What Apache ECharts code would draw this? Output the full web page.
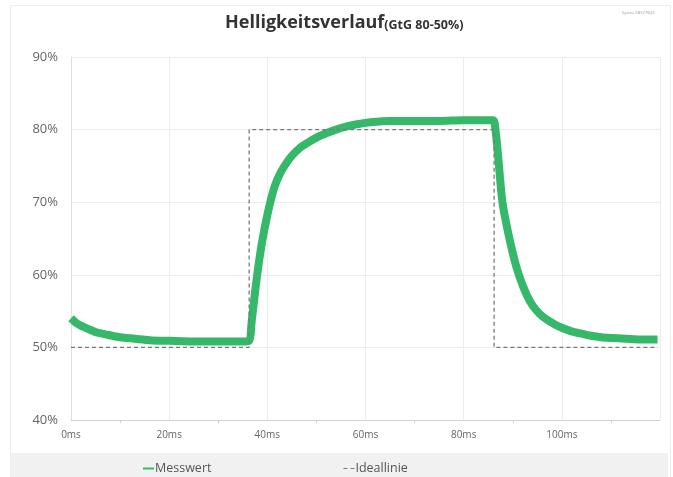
<!DOCTYPE html>
<html>
<head>
<meta charset="utf-8">
<script src="https://cdn.jsdelivr.net/npm/echarts@6/dist/echarts.min.js"></script>
<style>html,body{margin:0;padding:0;background:#fff}#c{width:673px;height:477px}</style>
</head>
<body>
<div id="c"></div>
<script>
const titleMain = 'Helligkeitsverlauf';
const titleSub = '(GtG 80-50%)';
const cornerNote = 'Iiyama XB3270QS';
const seriesNames = ['Messwert', 'Ideallinie'];
const xTickStep = 20;
const yTicks = [40, 50, 60, 70, 80, 90];

// Messwert (ms, %)
const messTime = [0, 0.5, 1, 2, 3, 4, 5, 7, 10, 13, 16, 20, 25, 30, 33, 35, 36.3,
  36.8, 37.3, 37.8, 38.3, 39, 39.8, 40.6, 41.5, 42.5, 43.5, 45, 46.5, 48, 50, 52, 54, 56, 58, 61, 65, 70, 75, 80, 84, 86,
  86.5, 87, 87.9, 89, 90, 91, 92, 93, 94, 95.5, 97, 98.5, 100, 102, 104, 106, 108, 110, 113, 116, 119.5];
const messValue = [54.0, 53.7, 53.4, 53.0, 52.7, 52.4, 52.1, 51.8, 51.4, 51.2, 51.0, 50.9, 50.8, 50.8, 50.8, 50.8, 50.9,
  53.5, 56.5, 59.3, 61.8, 64.8, 67.6, 70.0, 72.2, 73.8, 75.0, 76.4, 77.4, 78.1, 78.9, 79.5, 80.0, 80.4, 80.7, 81.0, 81.2, 81.2, 81.2, 81.3, 81.3, 81.3,
  79.8, 76.5, 70.0, 66.0, 63.0, 60.5, 58.6, 57.0, 55.8, 54.6, 53.8, 53.2, 52.7, 52.2, 51.9, 51.6, 51.4, 51.3, 51.2, 51.1, 51.1];

// Ideallinie (ms, %)
const idealTime = [0, 36.3, 36.3, 86.2, 86.2, 119.5];
const idealValue = [50, 50, 80, 80, 50, 50];

const messData = messTime.map((t, i) => [t, messValue[i]]);
const idealData = idealTime.map((t, i) => [t, idealValue[i]]);

const green = '#36b86b';
const dashGray = '#7a7a7a';

const chart = echarts.init(document.getElementById('c'), null, {renderer: 'canvas'});
chart.setOption({
  animation: false,
  backgroundColor: '#fff',
  graphic: [
    {type: 'rect', z: -10, shape: {x: 10.5, y: 5.5, width: 660, height: 472},
     style: {fill: '#fff', stroke: '#ececec', lineWidth: 1}},
    {type: 'rect', z: -9, shape: {x: 11, y: 453, width: 657, height: 24},
     style: {fill: '#f1f1f1'}},
    {type: 'text', left: 622, top: 11,
     style: {text: cornerNote, fontSize: 4, fill: '#9a9a9a', fontFamily: 'Open Sans'}}
  ],
  title: {
    text: '{a|' + titleMain + '}{b|' + titleSub + '}',
    left: 220, top: 9,
    textStyle: {
      rich: {
        a: {fontSize: 18, fontWeight: 'bold', color: '#333', fontFamily: 'Open Sans'},
        b: {fontSize: 12.5, fontWeight: 'bold', color: '#333', fontFamily: 'Open Sans', padding: [4, 0, 0, 0]}
      }
    }
  },
  legend: {
    left: 138, top: 457,
    itemGap: 132,
    itemWidth: 11, itemHeight: 2,
    textStyle: {fontSize: 12.5, color: '#555', fontFamily: 'Open Sans', padding: [0, 0, 0, -4]},
    data: [
      {name: seriesNames[0], icon: 'rect', itemStyle: {color: green}},
      {name: seriesNames[1], icon: 'path://M0,0h4v1h-4z M7,0h4v1h-4z', itemStyle: {color: dashGray}}
    ]
  },
  grid: {left: 71, right: 13, top: 57, bottom: 57, containLabel: false},
  xAxis: {
    type: 'value', min: 0, max: 120, interval: xTickStep,
    axisLine: {show: true, lineStyle: {color: '#d4d4d4', width: 1}},
    axisTick: {show: false},
    minorTick: {show: true, splitNumber: 2, length: 3, lineStyle: {color: '#cfcfcf'}},
    splitLine: {show: true, lineStyle: {color: '#ececec', width: 1}},
    axisLabel: {
      formatter: v => v + 'ms', fontSize: 10, color: '#666', fontFamily: 'Open Sans',
      margin: 10, showMaxLabel: false
    }
  },
  yAxis: {
    type: 'value', min: yTicks[0], max: yTicks[yTicks.length - 1], interval: 10,
    axisLine: {show: true, lineStyle: {color: '#e0e0e0'}},
    axisTick: {show: false},
    splitLine: {show: true, lineStyle: {color: '#ececec', width: 1}},
    axisLabel: {formatter: v => v + '%', fontSize: 13, color: '#666', fontFamily: 'Open Sans', margin: 13}
  },
  series: [
    {
      name: seriesNames[1], type: 'line', data: idealData, symbol: 'none', z: 3,
      lineStyle: {color: dashGray, width: 1.3, type: [4, 3]},
      itemStyle: {color: dashGray}
    },
    {
      name: seriesNames[0], type: 'line', data: messData, symbol: 'none', smooth: 0.3, z: 2,
      lineStyle: {color: green, width: 8, cap: 'butt', join: 'round'},
      itemStyle: {color: green}
    }
  ]
});
</script>
</body>
</html>
